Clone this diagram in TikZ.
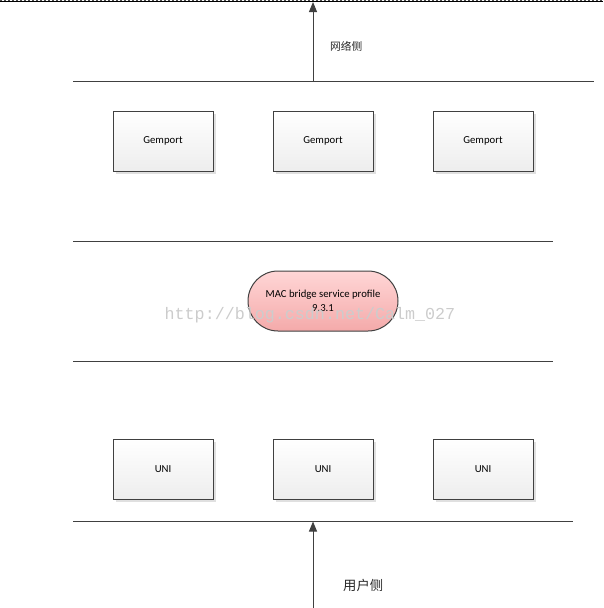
\documentclass[tikz,border=0pt]{standalone}
\usepackage{fontspec}
\setmainfont{Carlito}
\newfontfamily\cjk{Noto Sans CJK SC}
\newfontfamily\wmfont{Liberation Mono}
\usetikzlibrary{shadows,arrows.meta}
\definecolor{ink}{HTML}{404040}
\definecolor{pinktop}{HTML}{FFD6D6}
\definecolor{pinkbot}{HTML}{F4AAAA}
\tikzset{
  x=1pt, y=-1pt,
  sep/.style={draw=ink, line width=1pt},
  portbox/.style={draw=ink, line width=1pt, minimum width=100pt, minimum height=60pt,
    top color=white, bottom color=black!7, inner sep=0pt,
    font=\fontsize{10.7}{12}\selectfont,
    drop shadow={shadow xshift=3pt, shadow yshift=-3pt, fill=black!12, opacity=1}},
  profile/.style={draw=ink, line width=1pt, minimum width=150pt, minimum height=60pt,
    rounded corners=30pt, top color=pinktop, bottom color=pinkbot, inner sep=0pt,
    align=center, font=\fontsize{10.7}{14}\selectfont},
  sidearrow/.style={draw=ink, line width=1pt, -{Triangle[length=10pt,width=8pt]}},
}
\begin{document}
\begin{tikzpicture}
\useasboundingbox (0,0) rectangle (603,608);
% page edge
\draw[black!70, line width=1.2pt, dash pattern=on 1.5pt off 2.5pt] (0,0.6) -- (603,0.6);
\draw[black, line width=1pt] (0,1.8) -- (603,1.8);
% separators
\draw[sep] (73,81) -- (594,81);
\draw[sep] (73,241) -- (553,241);
\draw[sep] (73,361) -- (553,361);
\draw[sep] (73,521) -- (573,521);
% gemports
\node[portbox] (g1) at (163,141) {Gemport};
\node[portbox] (g2) at (323,141) {Gemport};
\node[portbox] (g3) at (483,141) {Gemport};
% profile
\node[profile] (mac) at (323,301) {MAC bridge service profile\\9.3.1};
% watermark (drawn over the profile, as in the reference)
\node[text=black!20, font=\wmfont\fontsize{16.7}{18}\selectfont, inner sep=0pt] (wm) at (310,315) {http://blog.csdn.net/Calm\_027};
% UNIs
\node[portbox] (u1) at (163,469) {UNI};
\node[portbox] (u2) at (323,469) {UNI};
\node[portbox] (u3) at (483,469) {UNI};
% arrows
\coordinate (netS) at (313,81);
\coordinate (netE) at (313,2);
\coordinate (usrS) at (313,608);
\coordinate (usrE) at (313,521.5);
\draw[sidearrow] (netS) -- (netE);
\draw[sidearrow] (usrS) -- (usrE);
\node[font=\cjk\fontsize{10.7}{12}\selectfont, text=black!85, anchor=west, inner sep=0pt] (net) at (330,46) {网络侧};
\node[font=\cjk\fontsize{13.3}{14}\selectfont, text=black!85, anchor=west, inner sep=0pt] (usr) at (343,585) {用户侧};
\end{tikzpicture}
\end{document}
